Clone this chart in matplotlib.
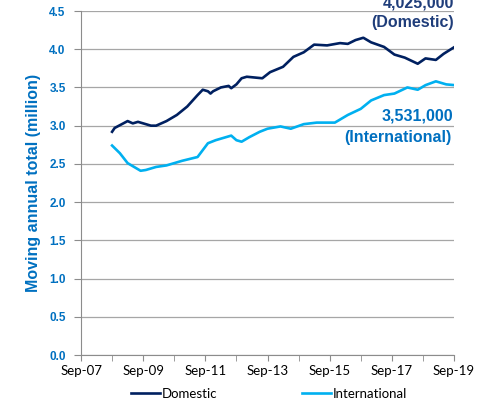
import matplotlib
matplotlib.use("Agg")
import matplotlib.pyplot as plt

# months since Sep-07 and moving annual totals (million)
dom_month = [12, 13, 18, 20, 22, 27, 29, 33, 37, 41, 45, 47, 49, 50, 51, 54, 57, 58,
             60, 62, 64, 70, 73, 78, 82, 86, 90, 95, 100, 103, 106, 109, 112, 117,
             121, 125, 130, 133, 137, 140, 144]
dom_val = [2.92, 2.97, 3.06, 3.03, 3.05, 3.00, 3.00, 3.06, 3.14, 3.25, 3.40, 3.47, 3.45,
           3.42, 3.45, 3.50, 3.52, 3.49, 3.54, 3.62, 3.64, 3.62, 3.70, 3.77, 3.90, 3.96,
           4.06, 4.05, 4.08, 4.07, 4.12, 4.15, 4.09, 4.03, 3.93, 3.89, 3.81, 3.88, 3.86,
           3.94, 4.025]

int_month = [12, 15, 18, 23, 25, 29, 33, 39, 45, 47, 49, 52, 58, 60, 62, 65, 69, 72,
             77, 81, 86, 91, 98, 103, 108, 112, 117, 121, 126, 130, 133, 137, 141, 144]
int_val = [2.74, 2.64, 2.51, 2.41, 2.42, 2.46, 2.48, 2.54, 2.59, 2.68, 2.77, 2.81, 2.87,
           2.81, 2.79, 2.85, 2.92, 2.96, 2.99, 2.96, 3.02, 3.04, 3.04, 3.14, 3.22, 3.33,
           3.40, 3.42, 3.50, 3.47, 3.53, 3.58, 3.54, 3.531]

tick_labels = ["Sep-07", "Sep-09", "Sep-11", "Sep-13", "Sep-15", "Sep-17", "Sep-19"]

dark = "#002060"
light = "#00B0F0"
blue_txt = "#0070C0"

fig = plt.figure(figsize=(4.88, 4.04), dpi=100)
ax = fig.add_axes([81 / 488, 1 - 355 / 404, 373 / 488, 344 / 404])

ax.plot(dom_month, dom_val, color=dark, lw=1.9, label="Domestic")
ax.plot(int_month, int_val, color=light, lw=1.9, label="International")

ax.set_xlim(0, 144)
ax.set_ylim(0, 4.5)
ax.set_xticks(range(0, 145, 24))
ax.set_xticks(range(12, 145, 24), minor=True)
ax.set_xticklabels(tick_labels, fontfamily="Lato", fontsize=9.5)
ax.tick_params(axis="x", which="both", length=4, color="#8c8c8c", pad=3)
ax.set_yticks([i * 0.5 for i in range(10)])
ax.set_yticklabels([f"{i * 0.5:.1f}" for i in range(10)], fontfamily="Liberation Sans",
                   fontweight="bold", fontsize=8.5, color=blue_txt)
ax.tick_params(axis="y", length=5, color="#8c8c8c", pad=6)

ax.grid(axis="y", color="#a6a6a6", lw=0.9)
ax.set_axisbelow(True)
for s in ["top", "right"]:
    ax.spines[s].set_visible(False)
for s in ["left", "bottom"]:
    ax.spines[s].set_color("#8c8c8c")

ax.set_ylabel("Moving annual total (million)", fontfamily="Liberation Sans",
              fontweight="bold", fontsize=11.5, color=blue_txt, labelpad=6)

lab = dict(fontfamily="Liberation Sans", fontweight="bold", fontsize=11.5, ha="right",
           va="baseline", clip_on=False)
ax.text(144, 4.551, "4,025,000", color="#1F3D7A", **lab)
ax.text(144, 4.29, "(Domestic)", color="#1F3D7A", **lab)
ax.text(143.5, 3.073, "3,531,000", color=blue_txt, **lab)
ax.text(143, 2.79, "(International)", color=blue_txt, **lab)

fig.legend(loc="center", bbox_to_anchor=(269 / 488, 1 - 394 / 404), ncol=2, frameon=False,
           prop={"family": "Lato", "size": 9.5}, handlelength=2.2, handletextpad=0.15,
           columnspacing=6.4, borderpad=0)

fig.savefig("out.png", dpi=100)
